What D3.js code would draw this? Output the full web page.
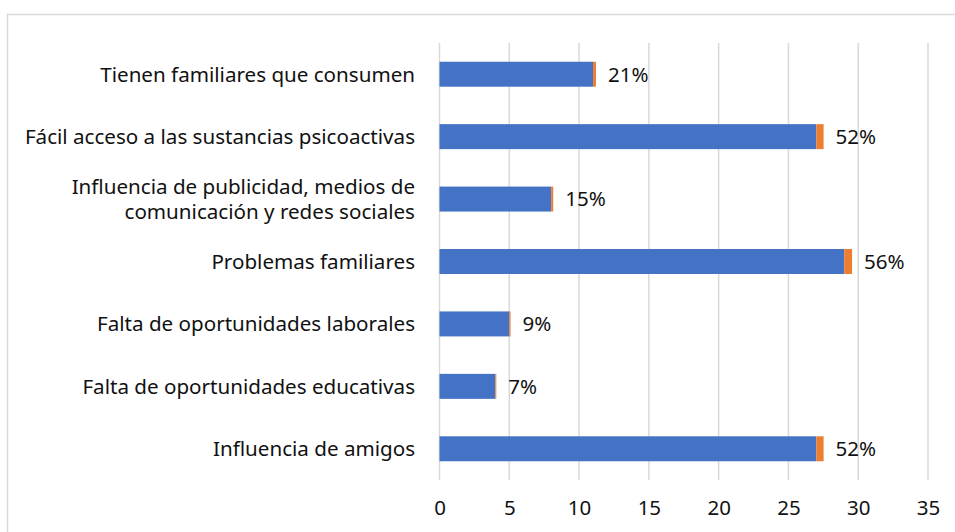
<!DOCTYPE html>
<html>
<head>
<meta charset="utf-8">
<script src="https://cdn.jsdelivr.net/npm/d3@7"></script>
<style>
  body { margin: 0; background: #fff; }
  svg { display: block; font-family: "Noto Sans", sans-serif; }
</style>
</head>
<body>
<svg width="955" height="532"></svg>
<script>
// chart data
var categories = [
  "Tienen familiares que consumen",
  "Fácil acceso a las sustancias psicoactivas",
  "Influencia de publicidad, medios de|comunicación y redes sociales",
  "Problemas familiares",
  "Falta de oportunidades laborales",
  "Falta de oportunidades educativas",
  "Influencia de amigos"
];
var counts = [11, 27, 8, 29, 5, 4, 27];
var percents = [0.21, 0.52, 0.15, 0.56, 0.09, 0.07, 0.52];
var percentLabels = ["21%", "52%", "15%", "56%", "9%", "7%", "52%"];
var xTicks = [0, 5, 10, 15, 20, 25, 30, 35];

var svg = d3.select("svg"),
    plotLeft = 439.5, plotRight = 928, plotTop = 43, plotBottom = 480;

// outer chart border
svg.append("rect")
    .attr("x", 7.5).attr("y", 14.5)
    .attr("width", 1000).attr("height", 600)
    .attr("fill", "none")
    .attr("stroke", "#d9d9d9")
    .attr("stroke-width", 1.5);

var x = d3.scaleLinear().domain([0, 35]).range([plotLeft, plotRight]);
var y = d3.scaleBand().domain(d3.range(categories.length))
    .range([plotTop, plotBottom]).paddingInner(0.6).paddingOuter(0.3);

// gridlines
svg.append("g")
  .selectAll("line")
  .data(xTicks)
  .enter().append("line")
    .attr("x1", function(d) { return x(d); })
    .attr("x2", function(d) { return x(d); })
    .attr("y1", plotTop)
    .attr("y2", plotBottom)
    .attr("stroke", "#d9d9d9")
    .attr("stroke-width", 1.5);

// x axis labels
var xAxis = svg.append("g")
    .attr("transform", "translate(0," + plotBottom + ")")
    .call(d3.axisBottom(x).tickValues(xTicks).tickSize(0).tickPadding(20));
xAxis.select(".domain").remove();
xAxis.selectAll("text")
    .attr("font-family", "Noto Sans")
    .attr("font-size", 20.5)
    .attr("fill", "#111");

// bars
var rows = svg.append("g").selectAll("g")
  .data(categories)
  .enter().append("g");

rows.append("rect")
    .attr("x", x(0))
    .attr("y", function(d, i) { return y(i); })
    .attr("width", function(d, i) { return x(counts[i]) - x(0); })
    .attr("height", y.bandwidth())
    .attr("fill", "#4472c4");

rows.append("rect")
    .attr("x", function(d, i) { return x(counts[i]); })
    .attr("y", function(d, i) { return y(i); })
    .attr("width", function(d, i) { return x(counts[i] + percents[i]) - x(counts[i]); })
    .attr("height", y.bandwidth())
    .attr("fill", "#ed7d31");

// data labels
rows.append("text")
    .attr("x", function(d, i) { return x(counts[i] + percents[i]) + 12; })
    .attr("y", function(d, i) { return y(i) + y.bandwidth() / 2; })
    .attr("dy", "0.36em")
    .attr("font-size", 20.5)
    .attr("fill", "#111")
    .text(function(d, i) { return percentLabels[i]; });

// category labels
var cat = rows.append("text")
    .attr("text-anchor", "end")
    .attr("font-size", 20.6)
    .attr("fill", "#111")
    .attr("y", function(d, i) { return y(i) + y.bandwidth() / 2; });

cat.each(function(d) {
  var lines = d.split("|");
  var t = d3.select(this);
  lines.forEach(function(l, j) {
    t.append("tspan")
      .attr("x", 415)
      .attr("dy", j == 0 ? (0.36 - (lines.length - 1) * 0.63) + "em" : "1.26em")
      .text(l);
  });
});
</script>
</body>
</html>
